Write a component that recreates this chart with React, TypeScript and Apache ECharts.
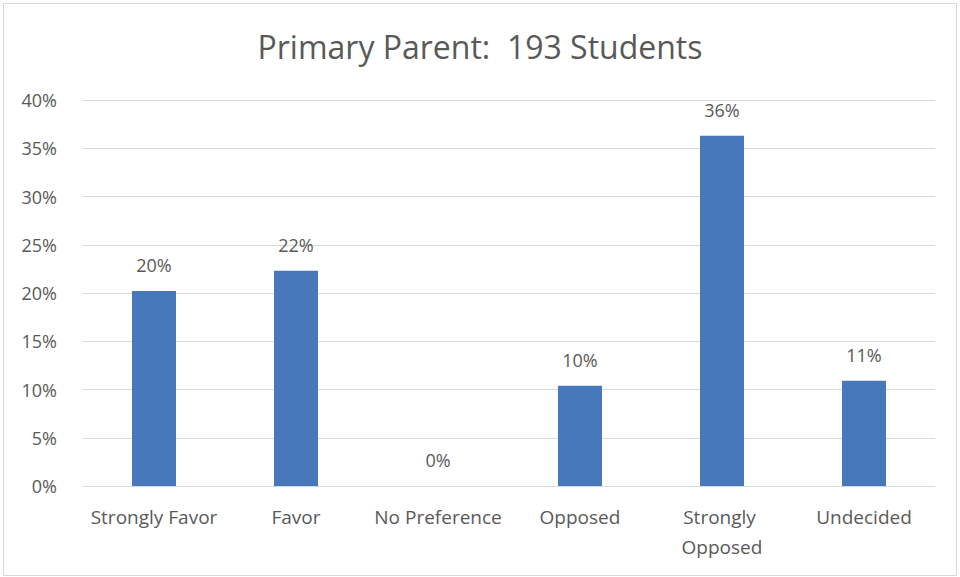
import React, { useEffect, useRef } from "react";
import * as echarts from "echarts";

const title = "Primary Parent:  193 Students";
const categories = ["Strongly Favor", "Favor", "No Preference", "Opposed", "Strongly Opposed", "Undecided"];
const values = [0.202, 0.223, 0, 0.104, 0.363, 0.109];
const yTicks = [0, 0.05, 0.1, 0.15, 0.2, 0.25, 0.3, 0.35, 0.4];

const FONT = "'Open Sans', 'Liberation Sans', sans-serif";
const TEXT = "#595959";

export default function App() {
  const ref = useRef<HTMLDivElement>(null);
  useEffect(() => {
    const chart = echarts.init(ref.current!, null, { renderer: "svg" });
    chart.setOption({
      animation: false,
      backgroundColor: "#ffffff",
      title: {
        text: title,
        left: "center",
        top: 21,
        textStyle: { fontFamily: FONT, fontSize: 32, fontWeight: "normal", color: TEXT },
      },
      grid: { left: 79, right: 21, top: 96, bottom: 89, containLabel: false },
      xAxis: {
        type: "category",
        data: categories,
        axisLine: { show: true, lineStyle: { color: "#d9d9d9", width: 1 } },
        axisTick: { show: false },
        axisLabel: {
          fontFamily: FONT,
          fontSize: 19,
          color: TEXT,
          margin: 16,
          interval: 0,
          width: 145,
          overflow: "break",
          lineHeight: 30,
        },
      },
      yAxis: {
        type: "value",
        min: 0,
        max: 0.4,
        interval: 0.05,
        axisLine: { show: false },
        axisTick: { show: false },
        splitLine: { lineStyle: { color: "#d9d9d9", width: 1 } },
        axisLabel: {
          fontFamily: FONT,
          fontSize: 18,
          color: TEXT,
          margin: 26,
          formatter: (v: number) => Math.round(v * 100) + "%",
          customValues: yTicks,
        },
      },
      series: [
        {
          type: "bar",
          data: values,
          barWidth: 44,
          itemStyle: { color: "#4878BC" },
          label: {
            show: true,
            position: "top",
            distance: 17,
            fontFamily: FONT,
            fontSize: 18,
            color: TEXT,
            formatter: (p: any) => Math.round(p.value * 100) + "%",
          },
        },
      ],
    });
    return () => chart.dispose();
  }, []);
  return (
    <div style={{ position: "absolute", left: 0, top: 0, width: 960, height: 577, background: "#fff" }}>
      <div
        ref={ref}
        style={{
          position: "absolute",
          left: 3,
          top: 3,
          width: 952,
          height: 571,
          border: "1px solid #d9d9d9",
        }}
      />
    </div>
  );
}
